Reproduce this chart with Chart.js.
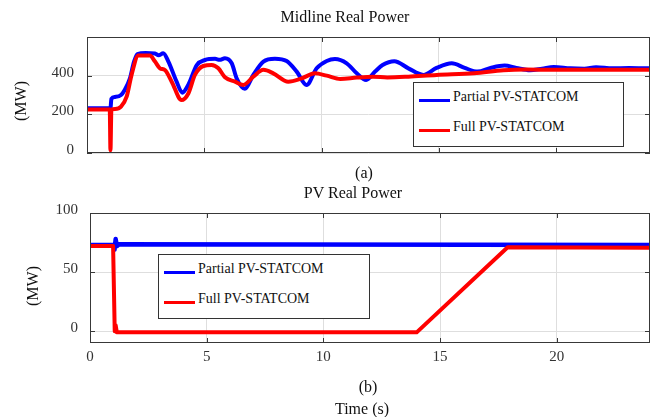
<!DOCTYPE html>
<html>
<head>
<meta charset="utf-8">
<title>Midline and PV Real Power</title>
<script src="https://cdn.jsdelivr.net/npm/chart.js@4/dist/chart.umd.min.js"></script>
<style>
  html, body { margin: 0; padding: 0; background: #fff; }
  #page { position: relative; width: 651px; height: 417px; overflow: hidden; background: #fff; }
  canvas { position: absolute; left: 0; }
  .txt {
    position: absolute; transform: translate(-50%, -50%);
    font-family: "Liberation Serif", "DejaVu Serif", serif; font-size: 16px;
    line-height: 1; white-space: nowrap; color: #111;
  }
  .ylab { transform: translate(-50%, -50%) rotate(-90deg); }
  .legend {
    position: absolute; box-sizing: border-box; border: 1px solid #333; background: #fff;
    font-family: "Liberation Serif", "DejaVu Serif", serif; font-size: 14px; color: #111;
  }
  .legend .swatch { position: absolute; left: 5px; width: 31px; height: 3px; }
  .legend .name { position: absolute; left: 39px; transform: translateY(-50%); line-height: 1; white-space: nowrap; }
</style>
</head>
<body>
<div id="page">
  <canvas id="midChart" width="651" height="180" style="top:0"></canvas>
  <canvas id="pvChart" width="651" height="237" style="top:180px"></canvas>

  <div class="txt" style="left:345px; top:17px;">Midline Real Power</div>
  <div class="txt ylab" style="left:21px; top:101px;">(MW)</div>
  <div class="txt" style="left:364px; top:173px;">(a)</div>

  <div class="txt" style="left:353px; top:193px;">PV Real Power</div>
  <div class="txt ylab" style="left:33px; top:286px;">(MW)</div>
  <div class="txt" style="left:368px; top:387px;">(b)</div>
  <div class="txt" style="left:362px; top:409px;">Time (s)</div>
</div>

<script>
// Series names and colours
const seriesNames = ['Partial PV-STATCOM', 'Full PV-STATCOM'];
const seriesColors = ['#0000ff', '#ff0000'];

// Shared time axis (s)
const timeTicks = [0, 5, 10, 15, 20];

// (a) Midline real power (MW)
const midTicks = [0, 200, 400];
const midPartialT  = [0, 1.0, 1.04, 1.2, 1.45, 1.6, 1.83, 2.0, 2.15, 2.5, 2.9, 3.05, 3.25, 3.47, 3.82, 4.06, 4.32, 4.68, 5.03, 5.46, 5.65, 5.88, 6.17, 6.38, 6.73, 7.09, 7.52, 8.01, 8.51, 8.94, 9.36, 9.79, 10.22, 10.57, 11.07, 11.5, 11.9, 12.28, 12.6, 13.1, 13.7, 14.34, 14.9, 15.55, 16.1, 16.65, 17.2, 17.8, 18.3, 18.88, 19.4, 19.9, 20.6, 21.2, 21.7, 22.4, 23.1, 24];
const midPartialMW = [232, 232, 280, 290, 300, 325, 386, 470, 512, 517, 515, 505, 516, 473, 369, 312, 353, 455, 481, 487, 482, 490, 464, 386, 332, 404, 473, 488, 476, 421, 352, 438, 476, 486, 464, 412, 378, 421, 455, 475, 438, 404, 440, 464, 440, 421, 440, 452, 440, 428, 436, 445, 438, 436, 444, 438, 440, 438];
const midFullT  = [0, 0.97, 1.0, 1.04, 1.2, 1.45, 1.69, 1.9, 2.19, 2.68, 2.9, 3.11, 3.32, 3.61, 4.03, 4.32, 4.6, 4.96, 5.31, 5.6, 5.88, 6.31, 6.66, 7.09, 7.52, 7.94, 8.58, 9.15, 9.72, 10.22, 10.8, 11.5, 12.2, 12.8, 13.7, 14.9, 16.5, 17.75, 18.7, 20, 24];
const midFullMW = [225, 225, 14, 225, 228, 240, 291, 404, 504, 504, 473, 438, 429, 369, 274, 308, 404, 450, 455, 438, 392, 369, 352, 395, 430, 412, 369, 386, 412, 400, 383, 390, 394, 391, 395, 404, 412, 428, 432, 430, 430];

// (b) PV real power (MW)
const pvTicks = [0, 50, 100];
const pvPartialT  = [0, 1.0, 1.05, 1.1, 1.15, 1.25, 24];
const pvPartialMW = [73, 73, 69, 78, 72, 73.5, 73];
const pvFullT  = [0, 0.99, 1.06, 1.1, 1.15, 1.3, 14.0, 17.9, 24];
const pvFullMW = [72, 72, 0, 5, -1, -1, -1, 71, 70.7];

const FONT = '"Liberation Serif", "DejaVu Serif", serif';
const TICK_COLOR = '#333';
const GRID_COLOR = '#dedede';
const FRAME_COLOR = '#383838';

function toPoints(ts, vs) {
  return ts.map((t, i) => ({ x: t, y: vs[i] }));
}

// Axes box with inward tick marks on all four sides
const axesFrame = {
  id: 'axesFrame',
  afterDatasetsDraw(chart) {
    const { ctx, chartArea: a, scales: { x, y } } = chart;
    const len = 5;
    ctx.save();
    ctx.strokeStyle = FRAME_COLOR;
    ctx.lineWidth = 1;
    ctx.strokeRect(Math.round(a.left) + 0.5, Math.round(a.top) + 0.5,
                   Math.round(a.right - a.left) - 1, Math.round(a.bottom - a.top) - 1);
    ctx.beginPath();
    x.ticks.forEach(t => {
      const p = Math.round(x.getPixelForValue(t.value)) + 0.5;
      ctx.moveTo(p, a.top); ctx.lineTo(p, a.top + len);
      ctx.moveTo(p, a.bottom); ctx.lineTo(p, a.bottom - len);
    });
    y.ticks.forEach(t => {
      const p = Math.round(y.getPixelForValue(t.value)) + 0.5;
      ctx.moveTo(a.left, p); ctx.lineTo(a.left + len, p);
      ctx.moveTo(a.right, p); ctx.lineTo(a.right - len, p);
    });
    ctx.stroke();
    ctx.restore();
  }
};

function buildChart(canvasId, opt) {
  return new Chart(document.getElementById(canvasId), {
    type: 'line',
    data: {
      datasets: [
        { label: seriesNames[1], data: toPoints(opt.fullT, opt.fullMW),
          borderColor: seriesColors[1], borderWidth: opt.fullWidth, order: 0 },
        { label: seriesNames[0], data: toPoints(opt.partT, opt.partMW),
          borderColor: seriesColors[0], borderWidth: opt.partWidth, order: 1 }
      ]
    },
    options: {
      responsive: false,
      animation: false,
      events: [],
      layout: { padding: { top: opt.padTop, right: 1, left: 0, bottom: 0 } },
      elements: {
        point: { radius: 0 },
        line: {
          fill: false,
          cubicInterpolationMode: opt.smooth ? 'monotone' : 'default',
          tension: 0,
          borderJoinStyle: 'round',
          borderCapStyle: 'round'
        }
      },
      plugins: { legend: { display: false }, tooltip: { enabled: false } },
      scales: {
        x: {
          type: 'linear', min: 0, max: 24,
          afterBuildTicks: s => { s.ticks = timeTicks.map(v => ({ value: v })); },
          afterFit: s => { s.height = opt.xHeight; },
          grid: { color: GRID_COLOR, drawTicks: false },
          border: { display: false },
          ticks: { display: opt.xLabels, padding: 5, color: TICK_COLOR,
                   font: { family: FONT, size: 15 } }
        },
        y: {
          type: 'linear', min: opt.yMin, max: opt.yMax,
          afterBuildTicks: s => { s.ticks = opt.yTicks.map(v => ({ value: v })); },
          afterFit: s => { s.width = opt.yWidth; },
          grid: { color: GRID_COLOR, drawTicks: false },
          border: { display: false },
          ticks: { padding: opt.yPad, labelOffset: -3, color: TICK_COLOR,
                   font: { family: FONT, size: 15 } }
        }
      }
    },
    plugins: [axesFrame]
  });
}

function addLegend(left, top, width, height) {
  const box = document.createElement('div');
  box.className = 'legend';
  Object.assign(box.style, { left: left + 'px', top: top + 'px', width: width + 'px', height: height + 'px' });
  seriesNames.forEach((name, i) => {
    const sw = document.createElement('div');
    sw.className = 'swatch';
    sw.style.top = (15.5 + 30 * i) + 'px';
    sw.style.background = seriesColors[i];
    const label = document.createElement('div');
    label.className = 'name';
    label.style.top = (14 + 30 * i) + 'px';
    label.textContent = name;
    box.appendChild(sw);
    box.appendChild(label);
  });
  document.getElementById('page').appendChild(box);
}

buildChart('midChart', {
  partT: midPartialT, partMW: midPartialMW, fullT: midFullT, fullMW: midFullMW,
  partWidth: 4, fullWidth: 4, smooth: true,
  yMin: 0, yMax: 600, yTicks: midTicks, yWidth: 87, yPad: 13,
  xHeight: 27, xLabels: false, padTop: 37
});

buildChart('pvChart', {
  partT: pvPartialT, partMW: pvPartialMW, fullT: pvFullT, fullMW: pvFullMW,
  partWidth: 4.5, fullWidth: 4, smooth: false,
  yMin: -10, yMax: 100, yTicks: pvTicks, yWidth: 90, yPad: 12,
  xHeight: 74, xLabels: true, padTop: 33
});

addLegend(413, 82, 211, 65);
addLegend(158, 254, 212, 65);
</script>
</body>
</html>
